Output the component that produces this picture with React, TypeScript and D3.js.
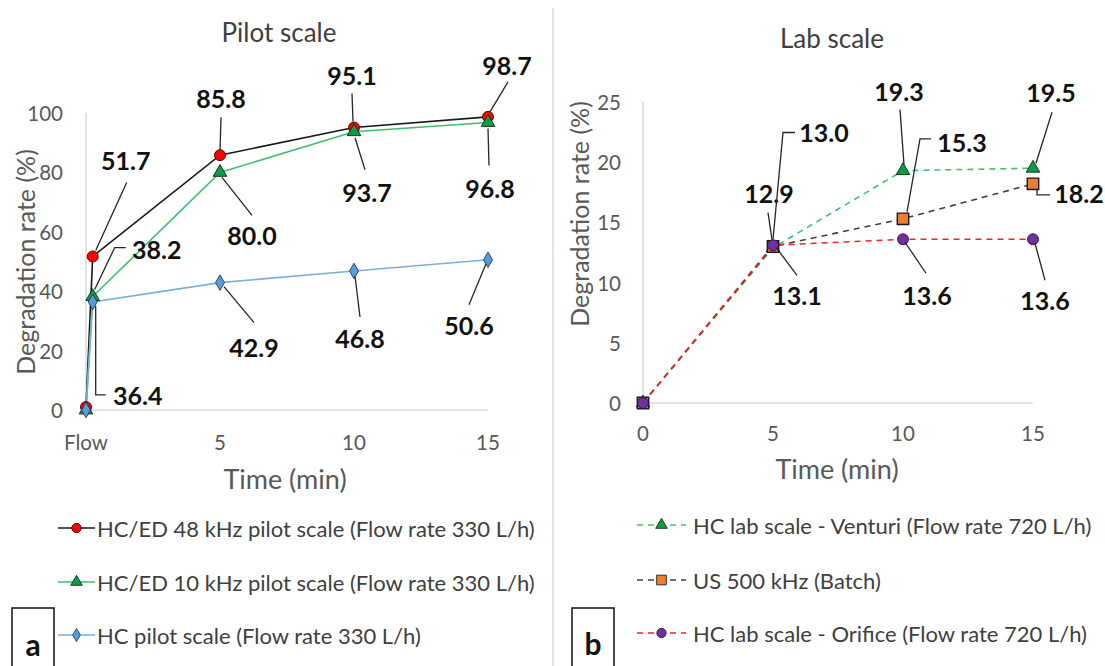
import React from "react";
import * as d3 from "d3";

// ---------- data ----------
// Pilot scale (panel a): time in minutes; the "Flow" point sits just after 0
const pilotTimes = [0, 0.25, 5, 10, 15];
const pilotED48 = [1.0, 51.7, 85.8, 95.1, 98.7];
const pilotED10 = [0, 38.2, 80.0, 93.7, 96.8];
const pilotHC = [0, 36.4, 42.9, 46.8, 50.6];
const pilotTickValues = [0, 5, 10, 15];
const pilotTickLabels = ["Flow", "5", "10", "15"];
const pilotYTicks = [0, 20, 40, 60, 80, 100];

// Lab scale (panel b)
const labTimes = [0, 5, 10, 15];
const labVenturi = [0, 12.9, 19.3, 19.5];
const labUS = [0, 13.0, 15.3, 18.2];
const labOrifice = [0, 13.1, 13.6, 13.6];
const labXTicks = [0, 5, 10, 15];
const labYTicks = [0, 5, 10, 15, 20, 25];

const pilotNames = [
  "HC/ED 48 kHz pilot scale (Flow rate 330 L/h)",
  "HC/ED 10 kHz pilot scale (Flow rate 330 L/h)",
  "HC pilot scale (Flow rate 330 L/h)",
];
const labNames = [
  "HC lab scale - Venturi (Flow rate 720 L/h)",
  "US 500 kHz (Batch)",
  "HC lab scale - Orifice (Flow rate 720 L/h)",
];

// ---------- label placement (pixel offsets from the marker) ----------
type Lbl = { i: number; dx: number; dy: number; lead: [number, number][] };
const pilotLabelsED48: Lbl[] = [
  { i: 1, dx: 33, dy: -96, lead: [[3, -6], [34, -74]] },
  { i: 2, dx: 1, dy: -57, lead: [[0, -5], [1, -38]] },
  { i: 3, dx: -2, dy: -53, lead: [[-1, -6], [-2, -34]] },
  { i: 4, dx: 19, dy: -52, lead: [[2, -5], [20, -35]] },
];
const pilotLabelsED10: Lbl[] = [
  { i: 1, dx: 64, dy: -48, lead: [[2, -7], [22, -49], [33, -49]] },
  { i: 2, dx: 32, dy: 63, lead: [[2, 5], [32, 43]] },
  { i: 3, dx: 13, dy: 60, lead: [[1, 6], [11, 38]] },
  { i: 4, dx: 2, dy: 65, lead: [[0, 6], [1, 43]] },
];
const pilotLabelsHC: Lbl[] = [
  { i: 1, dx: 45, dy: 93, lead: [[3, 4], [3, 93], [13, 93]] },
  { i: 2, dx: 34, dy: 64, lead: [[4, 4], [34, 40]] },
  { i: 3, dx: 6, dy: 67, lead: [[1, 5], [6, 46]] },
  { i: 4, dx: -19, dy: 65, lead: [[-2, 4], [-19, 45]] },
];
const labLabelsVenturi: Lbl[] = [
  { i: 1, dx: -4, dy: -55, lead: [[-1, -8], [-5, -35]] },
  { i: 2, dx: -4, dy: -80, lead: [[1, -6], [-3, -61]] },
  { i: 3, dx: 18, dy: -76, lead: [[3, -5], [19, -56]] },
];
const labLabelsUS: Lbl[] = [
  { i: 1, dx: 51, dy: -114, lead: [[0, -7], [10, -114], [22, -114]] },
  { i: 2, dx: 59, dy: -77, lead: [[4, -7], [17, -80], [28, -80]] },
  { i: 3, dx: 46, dy: 9, lead: [[4, 6], [4, 11], [17, 11]] },
];
const labLabelsOrifice: Lbl[] = [
  { i: 1, dx: 24, dy: 50, lead: [[3, 2], [24, 30]] },
  { i: 2, dx: 24, dy: 56, lead: [[2, 3], [23, 34]] },
  { i: 3, dx: 12, dy: 61, lead: [[2, 4], [12, 41]] },
];

const FONT = "Lato, 'Open Sans', sans-serif";
const TICK = "#595959";
const AXIS = "#d9d9d9";

type Marker = "circle" | "triangle" | "diamond" | "square";
const symbolPath = (m: Marker) => {
  const t =
    m === "triangle" ? d3.symbolTriangle : m === "diamond" ? d3.symbolDiamond : m === "square" ? d3.symbolSquare : d3.symbolCircle;
  const size = m === "triangle" ? 80 : m === "diamond" ? 70 : m === "square" ? 130 : 95;
  return d3.symbol().type(t).size(size)() as string;
};

type Series = {
  values: number[];
  line: string;
  dash?: string;
  fill: string;
  stroke: string;
  marker: Marker;
  labels: Lbl[];
};

function Panel(props: {
  times: number[];
  series: Series[];
  xDomain: [number, number];
  xRange: [number, number];
  yDomain: [number, number];
  yRange: [number, number];
  xTicks: number[];
  xTickLabels: string[];
  yTicks: number[];
  xTickY: number;
  yTickX: number;
  title: string;
  titlePos: [number, number];
  xTitlePos: [number, number];
  yTitlePos: [number, number];
}) {
  const x = d3.scaleLinear().domain(props.xDomain).range(props.xRange);
  const y = d3.scaleLinear().domain(props.yDomain).range(props.yRange);
  const [x0, x1] = props.xRange;
  const [y0, y1] = props.yRange;
  return (
    <g>
      <text x={props.titlePos[0]} y={props.titlePos[1]} textAnchor="middle" dominantBaseline="central" fontFamily={FONT} fontSize={26} fill="#404040">
        {props.title}
      </text>
      {/* axes */}
      <line x1={x0} x2={x0} y1={y1} y2={y0} stroke={AXIS} strokeWidth={1.5} />
      <line x1={x0} x2={x1} y1={y0} y2={y0} stroke={AXIS} strokeWidth={1.5} />
      {props.yTicks.map((t) => (
        <text key={"y" + t} x={props.yTickX} y={y(t)} textAnchor="end" dominantBaseline="central" fontFamily={FONT} fontSize={20.5} fill={TICK}>
          {t}
        </text>
      ))}
      {props.xTicks.map((t, k) => (
        <text key={"x" + t} x={x(t)} y={props.xTickY} textAnchor="middle" dominantBaseline="central" fontFamily={FONT} fontSize={20.5} fill={TICK}>
          {props.xTickLabels[k]}
        </text>
      ))}
      <text x={props.xTitlePos[0]} y={props.xTitlePos[1]} textAnchor="middle" dominantBaseline="central" fontFamily={FONT} fontSize={27} fill={TICK}>
        Time (min)
      </text>
      <text
        transform={`translate(${props.yTitlePos[0]},${props.yTitlePos[1]}) rotate(-90)`}
        textAnchor="middle"
        dominantBaseline="central"
        fontFamily={FONT}
        fontSize={25}
        fill={TICK}
      >
        Degradation rate (%)
      </text>
      {/* lines */}
      {props.series.map((s, k) => {
        const line = d3
          .line<number>()
          .x((_, i) => x(props.times[i]))
          .y((v) => y(v));
        return <path key={"l" + k} d={line(s.values) as string} fill="none" stroke={s.line} strokeWidth={1.6} strokeDasharray={s.dash} />;
      })}
      {/* markers */}
      {props.series.map((s, k) => (
        <g key={"m" + k}>
          {s.values.map((v, i) => (
            <path
              key={i}
              d={symbolPath(s.marker)}
              transform={`translate(${x(props.times[i])},${y(v)})`}
              fill={s.fill}
              stroke={s.stroke}
              strokeWidth={s.marker === "square" ? 1.4 : 0.9}
            />
          ))}
        </g>
      ))}
      {/* data labels with leader lines */}
      {props.series.map((s, k) => (
        <g key={"d" + k}>
          {s.labels.map((l) => {
            const px = x(props.times[l.i]);
            const py = y(s.values[l.i]);
            const pts = l.lead.map(([a, b]) => `${px + a},${py + b}`).join(" ");
            return (
              <g key={l.i}>
                <polyline points={pts} fill="none" stroke="#262626" strokeWidth={1.3} />
                <text x={px + l.dx} y={py + l.dy} textAnchor="middle" dominantBaseline="central" fontFamily={FONT} fontWeight={700} fontSize={25} fill="#111">
                  {s.values[l.i].toFixed(1)}
                </text>
              </g>
            );
          })}
        </g>
      ))}
    </g>
  );
}

function Legend(props: {
  names: string[];
  series: Series[];
  x0: number;
  x1: number;
  textX: number;
  ys: number[];
}) {
  return (
    <g>
      {props.names.map((n, k) => {
        const s = props.series[k];
        const yy = props.ys[k];
        const mx = (props.x0 + props.x1) / 2;
        return (
          <g key={n}>
            <line x1={props.x0} x2={props.x1} y1={yy} y2={yy} stroke={s.line} strokeWidth={1.6} strokeDasharray={s.dash} />
            <path d={symbolPath(s.marker)} transform={`translate(${mx},${yy}) scale(0.85)`} fill={s.fill} stroke={s.stroke} strokeWidth={1} />
            <text x={props.textX} y={yy} dominantBaseline="central" fontFamily={FONT} fontSize={22} fill="#404040">
              {n}
            </text>
          </g>
        );
      })}
    </g>
  );
}

export default function App() {
  const pilotSeries: Series[] = [
    { values: pilotED48, line: "#1a1a1a", fill: "#ff0000", stroke: "#3a0000", marker: "circle", labels: pilotLabelsED48 },
    { values: pilotED10, line: "#3dbf6e", fill: "#0f9a47", stroke: "#0a2a14", marker: "triangle", labels: pilotLabelsED10 },
    { values: pilotHC, line: "#7aaee0", fill: "#5b9bd5", stroke: "#1e3b5e", marker: "diamond", labels: pilotLabelsHC },
  ];
  const labSeries: Series[] = [
    { values: labVenturi, line: "#3ec46d", dash: "6,5", fill: "#0f9a47", stroke: "#0a2a14", marker: "triangle", labels: labLabelsVenturi },
    { values: labUS, line: "#404040", dash: "6,5", fill: "#ed7d31", stroke: "#1a1a1a", marker: "square", labels: labLabelsUS },
    { values: labOrifice, line: "#ff2020", dash: "6,5", fill: "#7030a0", stroke: "#2e1045", marker: "circle", labels: labLabelsOrifice },
  ];

  return (
    <svg width={1105} height={666} style={{ position: "absolute", left: 0, top: 0, display: "block", background: "#fff" }}>
      <rect width={1105} height={666} fill="#fff" />
      <Panel
        times={pilotTimes}
        series={pilotSeries}
        xDomain={[0, 15]}
        xRange={[86, 488]}
        yDomain={[0, 100]}
        yRange={[410, 113]}
        xTicks={pilotTickValues}
        xTickLabels={pilotTickLabels}
        yTicks={pilotYTicks}
        xTickY={442}
        yTickX={63}
        title="Pilot scale"
        titlePos={[279, 32]}
        xTitlePos={[285, 478]}
        yTitlePos={[25, 262]}
      />
      <Panel
        times={labTimes}
        series={labSeries}
        xDomain={[0, 15]}
        xRange={[643, 1033]}
        yDomain={[0, 25]}
        yRange={[403, 102]}
        xTicks={labXTicks}
        xTickLabels={labXTicks.map(String)}
        yTicks={labYTicks}
        xTickY={433}
        yTickX={621}
        title="Lab scale"
        titlePos={[832, 38]}
        xTitlePos={[837, 468]}
        yTitlePos={[579, 214]}
      />
      <line x1={553} x2={553} y1={8} y2={666} stroke={AXIS} strokeWidth={1.5} />
      <Legend names={pilotNames} series={pilotSeries} x0={58} x1={95} textX={97} ys={[528, 582, 635]} />
      <Legend names={labNames} series={labSeries} x0={637} x1={686} textX={693} ys={[525, 580, 633]} />
      {/* panel letters */}
      <rect x={12} y={608} width={42} height={70} fill="none" stroke="#111" strokeWidth={1.5} />
      <text x={33} y={644} textAnchor="middle" dominantBaseline="central" fontFamily={FONT} fontWeight={700} fontSize={30} fill="#111">
        a
      </text>
      <rect x={572} y={608} width={42} height={70} fill="none" stroke="#111" strokeWidth={1.5} />
      <text x={593} y={643} textAnchor="middle" dominantBaseline="central" fontFamily={FONT} fontWeight={700} fontSize={30} fill="#111">
        b
      </text>
    </svg>
  );
}
